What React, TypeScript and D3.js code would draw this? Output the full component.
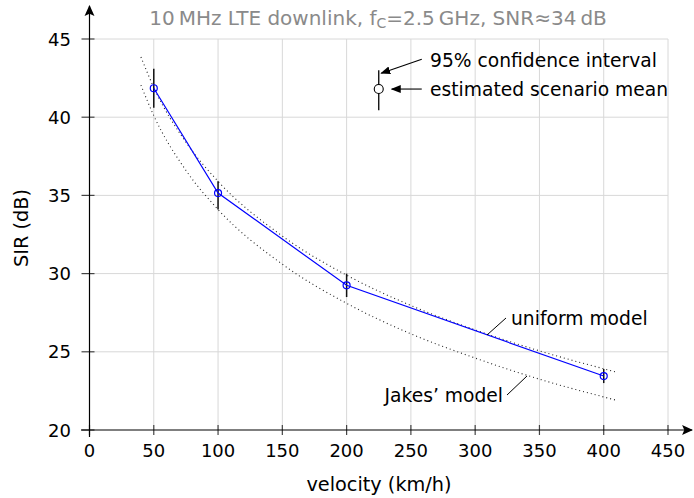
import React from "react";
import * as d3 from "d3";

const xTicks = [0, 50, 100, 150, 200, 250, 300, 350, 400, 450];
const yTicks = [20, 25, 30, 35, 40, 45];

const velocities = [50, 100, 200, 400];
const sirMean = [41.85, 35.15, 29.25, 23.45];
const ciLow = [40.6, 34.1, 28.5, 23.0];
const ciHigh = [43.1, 35.9, 30.0, 23.9];

const curveV = [40, 50, 75, 100, 150, 200, 250, 300, 350, 410];
const uniformCurve = [43.85, 41.9, 38.4, 35.9, 32.4, 29.9, 27.96, 26.4, 25.06, 23.7];
const jakesCurve = [42.05, 40.1, 36.6, 34.1, 30.6, 28.1, 26.15, 24.6, 23.25, 21.9];

const legendV = 225;
const legendMean = 41.8;
const legendLow = 40.45;
const legendHigh = 43.0;

const FONT = "'DejaVu Sans', sans-serif";

export default function App() {
  const W = 694, H = 498;
  const x = d3.scaleLinear().domain([0, 450]).range([89.5, 668]);
  const y = d3.scaleLinear().domain([20, 45]).range([430, 39]);

  const line = d3
    .line<[number, number]>()
    .x((d) => x(d[0]))
    .y((d) => y(d[1]));
  const smooth = d3
    .line<[number, number]>()
    .x((d) => x(d[0]))
    .y((d) => y(d[1]))
    .curve(d3.curveMonotoneX);

  const meanPath = line(velocities.map((v, i) => [v, sirMean[i]] as [number, number])) || "";
  const uPath = smooth(curveV.map((v, i) => [v, uniformCurve[i]] as [number, number])) || "";
  const jPath = smooth(curveV.map((v, i) => [v, jakesCurve[i]] as [number, number])) || "";

  const x0 = x(0), y0 = y(20);
  const lx = x(legendV), ly = y(legendMean);

  return (
    <svg
      width={W}
      height={H}
      style={{ position: "absolute", left: 0, top: 0, background: "#fff" }}
      fontFamily={FONT}
    >
      <defs>
        <marker id="ah" viewBox="0 0 10 10" refX="9" refY="5" markerWidth="10" markerHeight="10" orient="auto" markerUnits="userSpaceOnUse">
          <path d="M0,1 L10,5 L0,9 z" fill="#000" />
        </marker>
        <marker id="axah" viewBox="0 0 10 10" refX="9" refY="5" markerWidth="11" markerHeight="11" orient="auto" markerUnits="userSpaceOnUse">
          <path d="M0,0.5 L10,5 L0,9.5 L2,5 z" fill="#000" />
        </marker>
      </defs>

      {/* grid */}
      {xTicks.filter((t) => t > 0).map((t) => (
        <line key={"gx" + t} x1={x(t)} x2={x(t)} y1={y(20)} y2={y(45)} stroke="#d8d8d8" strokeWidth={1} />
      ))}
      {yTicks.filter((t) => t > 20).map((t) => (
        <line key={"gy" + t} x1={x(0)} x2={x(450)} y1={y(t)} y2={y(t)} stroke="#d8d8d8" strokeWidth={1} />
      ))}

      {/* ticks */}
      {xTicks.map((t) => (
        <line key={"tx" + t} x1={x(t)} x2={x(t)} y1={y0 - 5} y2={y0 + 5} stroke="#444" strokeWidth={1.2} />
      ))}
      {yTicks.map((t) => (
        <line key={"ty" + t} x1={x0 - 8} x2={x0 + 5} y1={y(t)} y2={y(t)} stroke="#444" strokeWidth={1.2} />
      ))}

      {/* axes */}
      <line x1={81} x2={692} y1={y0} y2={y0} stroke="#000" strokeWidth={1.2} markerEnd="url(#axah)" />
      <line x1={x0} x2={x0} y1={437} y2={6} stroke="#000" strokeWidth={1.2} markerEnd="url(#axah)" />

      {/* tick labels */}
      {xTicks.map((t) => (
        <text key={"lx" + t} x={x(t)} y={457} textAnchor="middle" fontSize={18} fill="#000">
          {t}
        </text>
      ))}
      {yTicks.map((t) => (
        <text key={"ly" + t} x={71} y={y(t) + 6.5} textAnchor="end" fontSize={18} fill="#000">
          {t}
        </text>
      ))}

      {/* axis labels */}
      <text x={379} y={491} textAnchor="middle" fontSize={19.3} fill="#000">
        velocity (km/h)
      </text>
      <text transform={`translate(28,228) rotate(-90)`} textAnchor="middle" fontSize={19.3} fill="#000">
        SIR (dB)
      </text>

      {/* title */}
      <text x={378} y={25} textAnchor="middle" fontSize={20} fill="#8a8a8a">
        10{"\u2009"}MHz LTE downlink, f
        <tspan fontSize={14} dy={3}>C</tspan>
        <tspan dy={-3}>=2.5{"\u2009"}GHz, SNR≈34{"\u2009"}dB</tspan>
      </text>

      {/* dotted model curves */}
      <path d={uPath} fill="none" stroke="#222" strokeWidth={1.1} strokeDasharray="1 3" />
      <path d={jPath} fill="none" stroke="#222" strokeWidth={1.1} strokeDasharray="1 3" />

      {/* error bars */}
      {velocities.map((v, i) => (
        <line key={"eb" + v} x1={x(v)} x2={x(v)} y1={y(ciLow[i])} y2={y(ciHigh[i])} stroke="#111" strokeWidth={1.5} />
      ))}

      {/* mean line */}
      <path d={meanPath} fill="none" stroke="#0000ff" strokeWidth={1.2} />
      {velocities.map((v, i) => (
        <circle key={"c" + v} cx={x(v)} cy={y(sirMean[i])} r={3.5} fill="none" stroke="#0000ff" strokeWidth={1.2} />
      ))}

      {/* model labels */}
      <line x1={487} y1={335} x2={506} y2={318} stroke="#000" strokeWidth={1} />
      <text x={511} y={324.5} fontSize={18.7} fill="#000">uniform model</text>
      <line x1={507} y1={395} x2={527} y2={376} stroke="#000" strokeWidth={1} />
      <text x={503} y={401.5} textAnchor="end" fontSize={18.7} fill="#000">Jakes’ model</text>

      {/* legend */}
      <line x1={lx} x2={lx} y1={y(legendLow)} y2={y(legendHigh)} stroke="#000" strokeWidth={1.3} />
      <circle cx={lx} cy={ly} r={4.5} fill="#fff" stroke="#000" strokeWidth={1.1} />
      <line x1={lx + 43} y1={y(legendHigh) - 11} x2={lx + 2.5} y2={y(legendHigh) + 3} stroke="#000" strokeWidth={1.1} markerEnd="url(#ah)" />
      <line x1={lx + 43} y1={ly} x2={lx + 13} y2={ly} stroke="#000" strokeWidth={1.1} markerEnd="url(#ah)" />
      <text x={430} y={66.5} fontSize={18.7} fill="#000">95% confidence interval</text>
      <text x={430} y={95.5} fontSize={18.7} fill="#000">estimated scenario mean</text>
    </svg>
  );
}
